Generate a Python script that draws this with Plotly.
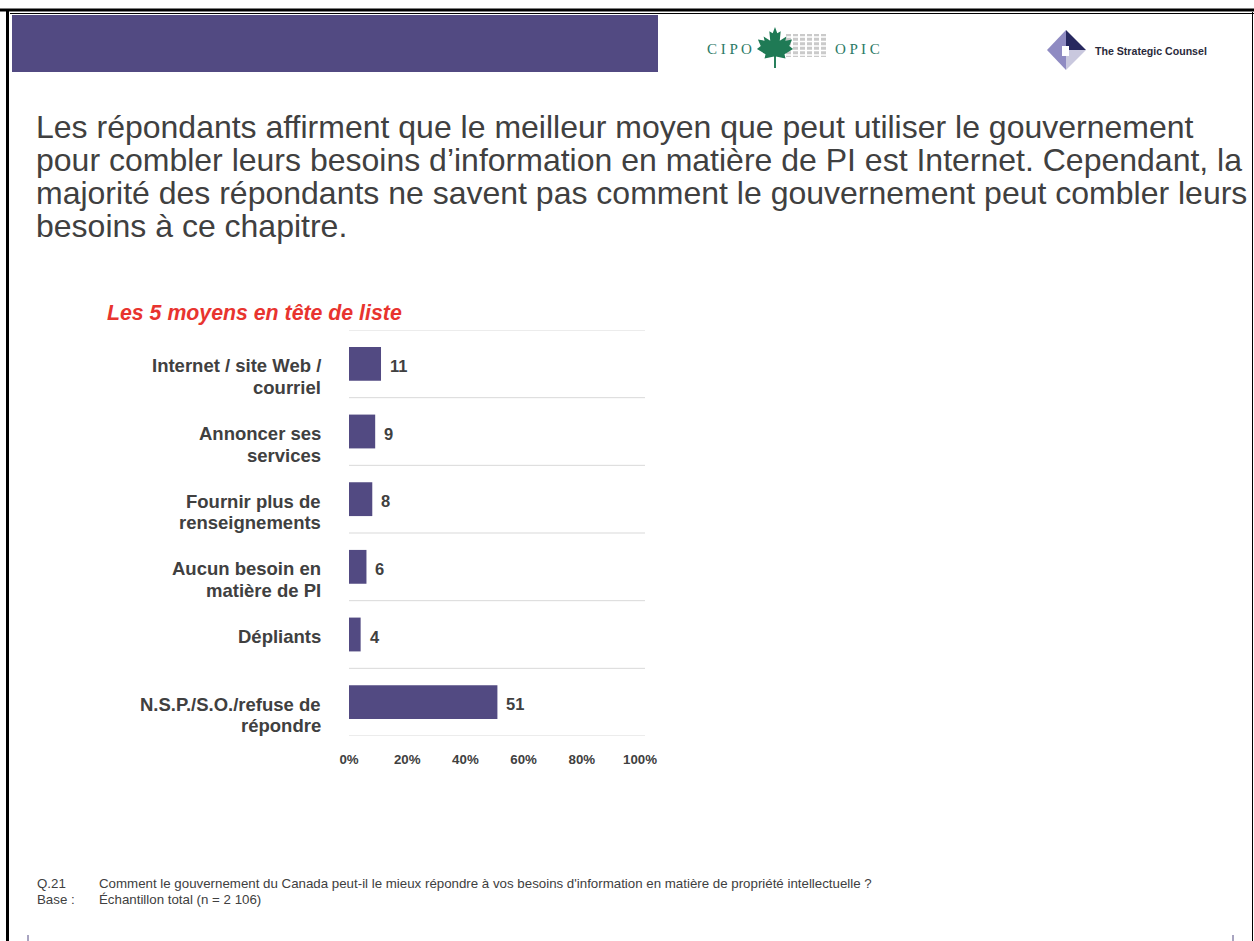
import plotly.graph_objects as go

W, H = 1254, 941

categories = [
    "Internet / site Web /<br>courriel",
    "Annoncer ses<br>services",
    "Fournir plus de<br>renseignements",
    "Aucun besoin en<br>matière de PI",
    "Dépliants",
    "N.S.P./S.O./refuse de<br>répondre",
]
values = [11, 9, 8, 6, 4, 51]
x_ticks = [0, 20, 40, 60, 80, 100]
x_tick_labels = ["0%", "20%", "40%", "60%", "80%", "100%"]

title_lines = [
    "Les répondants affirment que le meilleur moyen que peut utiliser le gouvernement",
    "pour combler leurs besoins d’information en matière de PI est Internet. Cependant, la",
    "majorité des répondants ne savent pas comment le gouvernement peut combler leurs",
    "besoins à ce chapitre.",
]
subtitle = "Les 5 moyens en tête de liste"
foot_keys = ["Q.21", "Base :"]
foot_texts = [
    "Comment le gouvernement du Canada peut-il le mieux répondre à vos besoins d'information en matière de propriété intellectuelle ?",
    "Échantillon total (n = 2 106)",
]

BAR = "#524A82"
TXT = "#404040"
FONT = "Liberation Sans, Arial, sans-serif"


def px(x):
    return x / W


def py(y):
    return 1 - y / H


# plot area in pixels
PL, PR, PT, PB = 349, 640, 330, 736

fig = go.Figure()
fig.add_trace(go.Bar(
    y=categories, x=values, orientation="h",
    marker=dict(color=BAR, line=dict(width=0)),
    width=0.5, hoverinfo="skip",
))

shapes = []
annotations = []

# frame
shapes.append(dict(type="line", xref="paper", yref="paper", x0=0, x1=1, y0=py(10), y1=py(10),
                   line=dict(color="black", width=3)))
shapes.append(dict(type="line", xref="paper", yref="paper", x0=px(10), x1=1, y0=py(13.5), y1=py(13.5),
                   line=dict(color="black", width=1)))
shapes.append(dict(type="line", xref="paper", yref="paper", x0=px(7.5), x1=px(7.5), y0=py(9), y1=0,
                   line=dict(color="black", width=3)))
shapes.append(dict(type="line", xref="paper", yref="paper", x0=px(1252.5), x1=px(1252.5), y0=py(12), y1=0,
                   line=dict(color="black", width=1)))
# tiny marks bottom
shapes.append(dict(type="line", xref="paper", yref="paper", x0=px(28), x1=px(28), y0=py(935), y1=py(941),
                   line=dict(color=BAR, width=1)))
shapes.append(dict(type="line", xref="paper", yref="paper", x0=px(1233), x1=px(1233), y0=py(935), y1=py(941),
                   line=dict(color=BAR, width=1)))

# banner
shapes.append(dict(type="rect", xref="paper", yref="paper", x0=px(12), x1=px(658), y0=py(72), y1=py(15),
                   fillcolor=BAR, line=dict(width=0), layer="below"))

# CIPO logo: gray hatch + maple leaf
for i in range(6):
    shapes.append(dict(type="rect", xref="paper", yref="paper",
                       x0=px(786 + i * 7), x1=px(791 + i * 7), y0=py(57), y1=py(34),
                       fillcolor="#BDBDBD", line=dict(width=0), opacity=0.8))
for j in range(5):
    shapes.append(dict(type="line", xref="paper", yref="paper",
                       x0=px(785), x1=px(829), y0=py(37 + j * 4.5), y1=py(37 + j * 4.5),
                       line=dict(color="white", width=1.5)))
leaf = [(0, -1), (0.12, -0.7), (0.3, -0.8), (0.25, -0.35), (0.6, -0.55), (0.55, -0.35), (0.9, -0.4),
        (0.75, -0.1), (0.95, 0.05), (0.5, 0.3), (0.55, 0.5), (0.05, 0.4), (0.05, 0.95), (-0.05, 0.95),
        (-0.05, 0.4), (-0.55, 0.5), (-0.5, 0.3), (-0.95, 0.05), (-0.75, -0.1), (-0.9, -0.4),
        (-0.55, -0.35), (-0.6, -0.55), (-0.25, -0.35), (-0.3, -0.8), (-0.12, -0.7)]
cx, cy, sx, sy = 775, 48, 19, 21
path = "M " + " L ".join(f"{px(cx + a * sx):.5f},{py(cy + b * sy):.5f}" for a, b in leaf) + " Z"
shapes.append(dict(type="path", xref="paper", yref="paper", path=path,
                   fillcolor="#1F7A55", line=dict(width=0)))

annotations.append(dict(text="C I P O", xref="paper", yref="paper", x=px(705), y=py(49), xanchor="left",
                        yanchor="middle", showarrow=False,
                        font=dict(family="Liberation Serif, serif", size=15, color="#2C7A66")))
annotations.append(dict(text="O P I C", xref="paper", yref="paper", x=px(833), y=py(49), xanchor="left",
                        yanchor="middle", showarrow=False,
                        font=dict(family="Liberation Serif, serif", size=15, color="#2C7A66")))

# Strategic Counsel diamond
dcx, dcy = 1066, 50
top, right, bottom, left = (dcx, 30), (dcx + 20, dcy), (dcx, 70), (dcx - 19, dcy)


def poly(pts):
    return "M " + " L ".join(f"{px(a):.5f},{py(b):.5f}" for a, b in pts) + " Z"


shapes.append(dict(type="path", xref="paper", yref="paper", path=poly([top, left, bottom]),
                   fillcolor="#8F8BC2", line=dict(width=0)))
shapes.append(dict(type="path", xref="paper", yref="paper", path=poly([top, right, (dcx, dcy)]),
                   fillcolor="#27285F", line=dict(width=0)))
shapes.append(dict(type="path", xref="paper", yref="paper", path=poly([(dcx, dcy), right, bottom]),
                   fillcolor="#C9C8DE", line=dict(width=0)))
shapes.append(dict(type="rect", xref="paper", yref="paper", x0=px(1062), x1=px(1069), y0=py(56), y1=py(46),
                   fillcolor="white", line=dict(width=0)))
annotations.append(dict(text="<b>The Strategic Counsel</b>", xref="paper", yref="paper", x=px(1093), y=py(51),
                        xanchor="left", yanchor="middle", showarrow=False,
                        font=dict(family="Liberation Sans Narrow, Arial Narrow, sans-serif", size=10.6,
                                  color="#2A2A3A")))

# title
for i, line in enumerate(title_lines):
    annotations.append(dict(text=line, xref="paper", yref="paper", x=px(34), y=py(127 + 33 * i),
                            xanchor="left", yanchor="middle", showarrow=False,
                            font=dict(family=FONT, size=32, color=TXT)))

# subtitle
annotations.append(dict(text="<b><i>" + subtitle + "</i></b>", xref="paper", yref="paper", x=px(105),
                        y=py(313), xanchor="left", yanchor="middle", showarrow=False,
                        font=dict(family=FONT, size=21.3, color="#E8342F")))

# horizontal separator lines
for k in range(len(categories) + 1):
    shapes.append(dict(type="line", xref="paper", yref="y", x0=px(PL), x1=px(645),
                       y0=k - 0.5, y1=k - 0.5, line=dict(color="#D9D9D9", width=1), layer="below"))

# category labels (one annotation per text line)
for c in categories:
    for j, part in enumerate(c.split("<br>")):
        annotations.append(dict(text="<b>" + part + "</b>", xref="paper", yref="y", x=px(323), y=c,
                                xanchor="right", yanchor="middle", showarrow=False,
                                yshift=-2 - 21.5 * j,
                                font=dict(family=FONT, size=18.5, color=TXT)))

# value labels
for c, v in zip(categories, values):
    annotations.append(dict(text="<b>%d</b>" % v, xref="x", yref="y", x=v, y=c,
                            xanchor="left", yanchor="middle", showarrow=False, xshift=7, yshift=-2,
                            font=dict(family=FONT, size=16.5, color=TXT)))

# footnote
for i, (k, t) in enumerate(zip(foot_keys, foot_texts)):
    annotations.append(dict(text=k, xref="paper", yref="paper", x=px(35), y=py(883 + 16 * i),
                            xanchor="left", yanchor="middle", showarrow=False,
                            font=dict(family=FONT, size=13.3, color=TXT)))
    annotations.append(dict(text=t, xref="paper", yref="paper", x=px(97), y=py(883 + 16 * i),
                            xanchor="left", yanchor="middle", showarrow=False,
                            font=dict(family=FONT, size=13.3, color=TXT)))

fig.update_layout(
    width=W, height=H, autosize=False,
    margin=dict(l=0, r=0, t=0, b=0, autoexpand=False),
    paper_bgcolor="white", plot_bgcolor="white",
    showlegend=False,
    xaxis=dict(domain=[px(PL), px(PR)], range=[0, 100], tickvals=x_ticks,
               ticktext=["<b>" + t + "</b>" for t in x_tick_labels],
               tickfont=dict(family=FONT, size=13.3, color=TXT), showgrid=False, zeroline=False,
               showline=False, ticks="", ticklabelstandoff=14, fixedrange=True, automargin=False),
    yaxis=dict(domain=[1 - PB / H, 1 - PT / H], range=[len(categories) - 0.5, -0.5],
               showticklabels=False, showgrid=False, zeroline=False, showline=False, ticks="",
               fixedrange=True, automargin=False),
    shapes=shapes, annotations=annotations,
)

fig.write_html("out.html", config={"displayModeBar": False},
               post_script="document.body.style.margin='0';document.body.style.overflow='hidden';")
